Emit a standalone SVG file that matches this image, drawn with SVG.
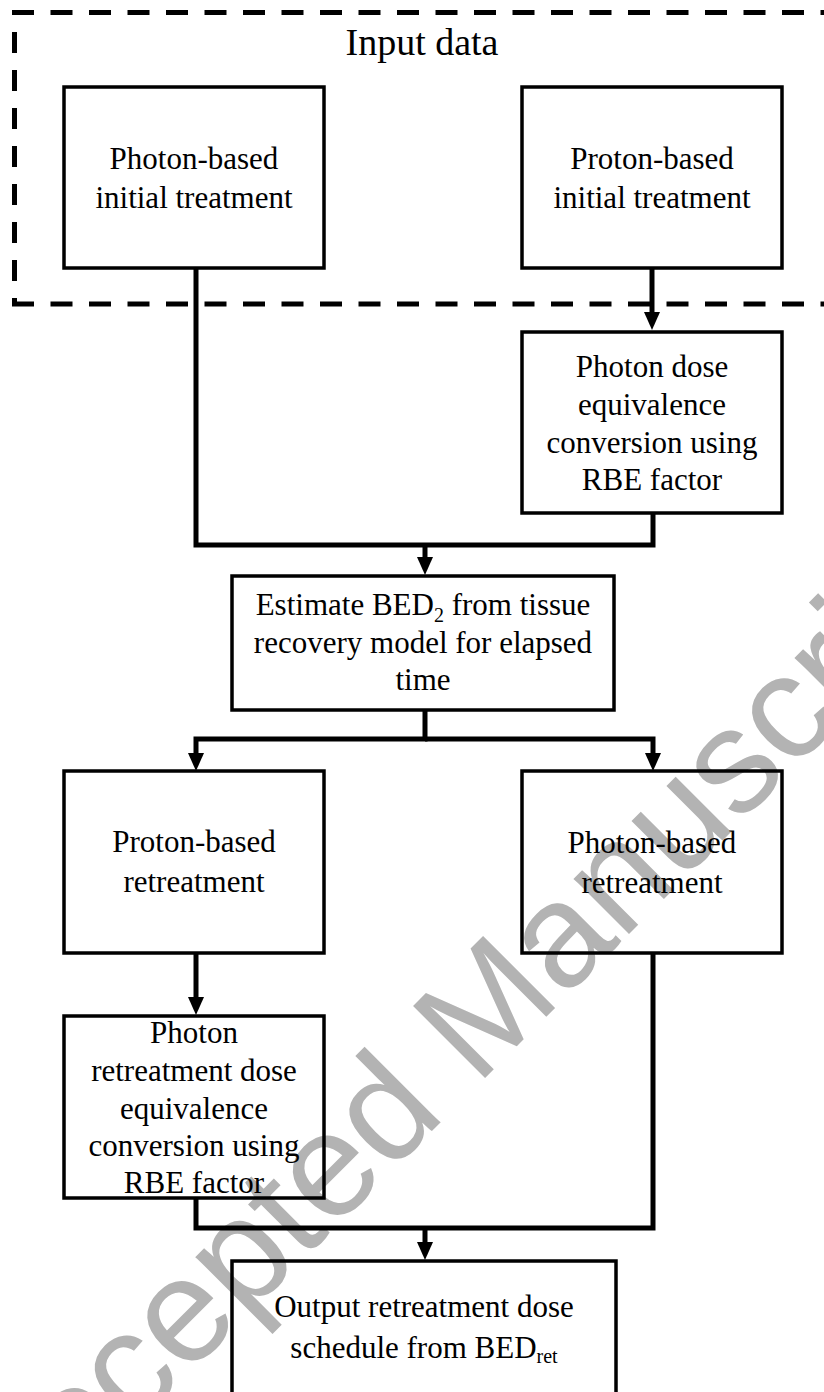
<svg xmlns="http://www.w3.org/2000/svg" width="824" height="1392" viewBox="0 0 824 1392">
<style>
.box{fill:none;stroke:#000;stroke-width:3.5}
.t{font-family:"Liberation Serif","Times New Roman",serif;font-size:31px;fill:#000;text-anchor:middle}
.sub{font-size:20px}
.c{fill:none;stroke:#000;stroke-width:5}
.dash{fill:none;stroke:#000;stroke-width:5}
.wm{font-family:"Liberation Sans",Arial,sans-serif;font-size:148px;fill:#b3b3b3}
</style>
<defs>
<marker id="ah" viewBox="0 0 18 16" refX="0" refY="8" markerWidth="18" markerHeight="16" markerUnits="userSpaceOnUse" orient="auto">
<path d="M0,0 L18,8 L0,16 z" fill="#000"/>
</marker>
</defs>
<rect width="824" height="1392" fill="#fff"/>
<text class="wm" x="11" y="1552" transform="rotate(-45 11 1552)">Accepted Manuscript</text>
<g id="input-data">
<path class="dash" d="M12,12.5 H830" stroke-dasharray="22 16.5"/>
<path class="dash" d="M14.5,32 V302" stroke-dasharray="21 17"/>
<path class="dash" d="M12,304 H830" stroke-dasharray="22 16.5"/>
<text class="t" x="422" y="55" style="font-size:38px">Input data</text>
</g>
<g id="connectors">
<path class="c" d="M196,268 V545 H653 V513"/>
<path class="c" d="M425,545 V557" marker-end="url(#ah)"/>
<path class="c" d="M652,268 V312" marker-end="url(#ah)"/>
<path class="c" d="M425,710 V739 H196 V753" marker-end="url(#ah)"/>
<path class="c" d="M425,739 H653 V753" marker-end="url(#ah)"/>
<path class="c" d="M196,953 V997" marker-end="url(#ah)"/>
<path class="c" d="M196,1198 V1228 H653 V953"/>
<path class="c" d="M425,1228 V1242" marker-end="url(#ah)"/>
</g>
<g id="photon-initial">
<rect class="box" x="64" y="87" width="260" height="181"/>
<text class="t" x="194" y="169">Photon-based</text>
<text class="t" x="194" y="208">initial treatment</text>
</g>
<g id="proton-initial">
<rect class="box" x="522" y="87" width="260" height="181"/>
<text class="t" x="652" y="169">Proton-based</text>
<text class="t" x="652" y="208">initial treatment</text>
</g>
<g id="rbe-initial">
<rect class="box" x="522" y="332" width="260" height="181"/>
<text class="t" x="652" y="377">Photon dose</text>
<text class="t" x="652" y="415">equivalence</text>
<text class="t" x="652" y="453">conversion using</text>
<text class="t" x="652" y="490">RBE factor</text>
</g>
<g id="estimate-bed">
<rect class="box" x="232" y="576" width="382" height="134"/>
<text class="t" x="423" y="615">Estimate BED<tspan class="sub" dy="7">2</tspan><tspan dy="-7"> from tissue</tspan></text>
<text class="t" x="423" y="653">recovery model for elapsed</text>
<text class="t" x="423" y="690">time</text>
</g>
<g id="proton-retreatment">
<rect class="box" x="64" y="771" width="260" height="182"/>
<text class="t" x="194" y="852">Proton-based</text>
<text class="t" x="194" y="892">retreatment</text>
</g>
<g id="photon-retreatment">
<rect class="box" x="522" y="771" width="260" height="182"/>
<text class="t" x="652" y="853">Photon-based</text>
<text class="t" x="652" y="893">retreatment</text>
</g>
<g id="rbe-retreatment">
<rect class="box" x="64" y="1016" width="260" height="182"/>
<text class="t" x="194" y="1043">Photon</text>
<text class="t" x="194" y="1081">retreatment dose</text>
<text class="t" x="194" y="1119">equivalence</text>
<text class="t" x="194" y="1156">conversion using</text>
<text class="t" x="194" y="1193">RBE factor</text>
</g>
<g id="output">
<rect class="box" x="232" y="1261" width="384" height="200"/>
<text class="t" x="424" y="1317">Output retreatment dose</text>
<text class="t" x="424" y="1358">schedule from BED<tspan class="sub" dy="5">ret</tspan></text>
</g>
</svg>
